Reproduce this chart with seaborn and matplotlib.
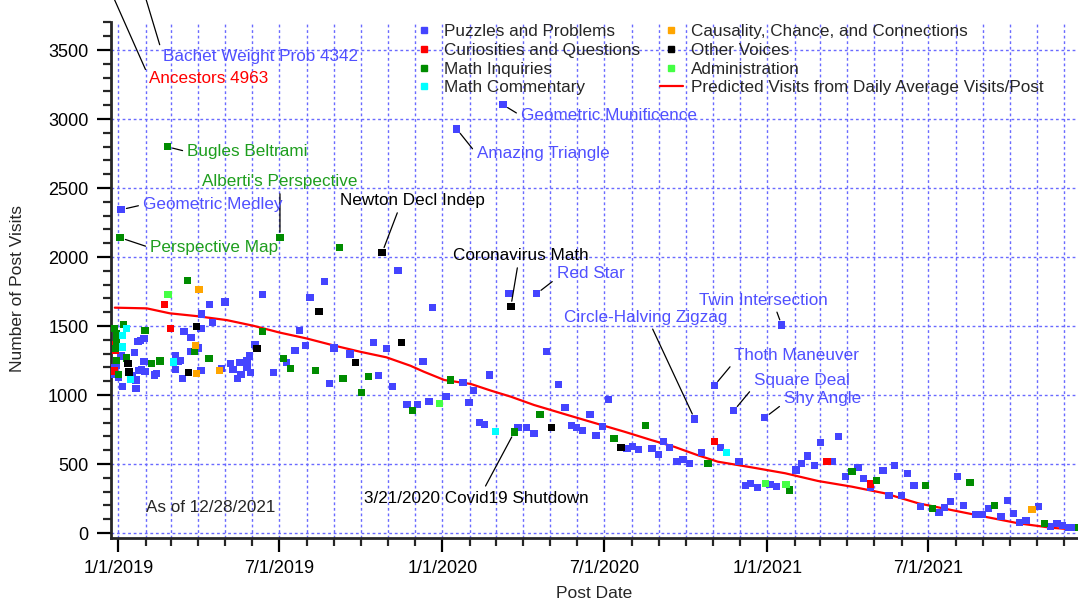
import pandas as pd
import matplotlib
matplotlib.use("Agg")
import matplotlib.pyplot as plt
import matplotlib.dates as mdates
from matplotlib.ticker import MultipleLocator, FuncFormatter
from matplotlib.lines import Line2D
import seaborn as sns

start = pd.Timestamp("2019-01-01")

# post day = days after 1/1/2019, visits = number of post visits
puzzles_day = [9, 3, 22, 25, 29, 18, 3, -2, -4, -4, 0, 20, 5, 20, 16, 23, 26, 30, 41, 43,
               29, 64, 67, 70, 64, 72, 74, 82, 81, 90, 93, 93, 94, 103, 106, 120, 116, 126,
               129, 134, 137, 138, 145, 145, 148, 149, 154, 162, 175, 189, 199, 204, 211,
               216, 232, 238, 243, 261, 287, 293, 302, 309, 315, 325, 337, 343, 350, 354,
               369, 381, 388, 395, 400, 407, 412, 418, 433, 440, 450, 460, 468, 471, 482,
               496, 503, 510, 516, 523, 531, 538, 545, 552, 573, 579, 586, 601, 608, 614,
               621, 629, 636, 643, 649, 657, 671, 678, 693, 699, 706, 712, 720, 728, 734,
               741, 747, 763, 769, 776, 784, 791, 804, 811, 819, 833, 839, 847, 861, 868,
               874, 882, 889, 896, 903, 924, 930, 937, 945, 952, 965, 973, 980, 994, 1001,
               1008, 1015, 1022, 1036, 1050, 1057, 1063, 1070, 1077]
puzzles_visits = [4342, 2343, 1386, 1394, 1408, 1307, 1283, 1215, 1196, 1152, 1125, 1109,
                  1060, 1046, 1143, 1179, 1186, 1172, 1145, 1154, 1241, 1285, 1241, 1248,
                  1183, 1118, 1459, 1415, 1314, 1341, 1480, 1176, 1587, 1654, 1524, 1674,
                  1193, 1227, 1183, 1118, 1234, 1147, 1249, 1198, 1283, 1162, 1364, 1727,
                  1162, 1234, 1321, 1466, 1357, 1705, 1821, 1082, 1340, 1297, 1379, 1140,
                  1336, 1060, 1901, 930, 930, 1241, 951, 1633, 988, 2928, 1089, 944, 1031,
                  800, 785, 1145, 3104, 1734, 763, 763, 722, 1734, 1314, 1075, 908, 780, 766,
                  741, 857, 705, 770, 966, 611, 625, 604, 611, 567, 662, 618, 520, 531, 505,
                  826, 582, 1067, 618, 886, 517, 343, 360, 328, 836, 350, 336, 1507, 457, 502,
                  558, 488, 654, 517, 698, 408, 473, 394, 328, 451, 270, 488, 270, 430, 343,
                  191, 147, 183, 227, 408, 198, 133, 133, 176, 118, 234, 140, 75, 89, 191, 46,
                  67, 53, 38, 38]

curiosities_day = [-80, 52, 59, -3, -3, -5, 671, 798, 847]
curiosities_visits = [4963, 1654, 1480, 1367, 1324, 1175, 662, 517, 355]

inquiries_day = [55, 2, 182, 249, 78, 6, -4, -2, -2, -2, 30, 162, -3, 9, -2, 37, 47, 86,
                 102, 186, 194, 0, 222, 253, 274, 282, 331, 374, 446, 475, 558, 594, 664,
                 756, 826, 854, 909, 917, 959, 987, 1043, 1081]
inquiries_visits = [2799, 2140, 2140, 2067, 1828, 1509, 1480, 1447, 1418, 1389, 1466, 1459,
                    1336, 1268, 1249, 1227, 1246, 1314, 1263, 1263, 1191, 1147, 1176, 1118,
                    1017, 1133, 886, 1109, 732, 857, 683, 778, 502, 312, 444, 379, 343, 176,
                    365, 198, 67, 38]

commentary_day = [9, 5, 5, 14, 62, 425, 685]
commentary_visits = [1480, 1430, 1348, 1111, 1239, 734, 582]

causality_day = [91, 87, 88, 114, 1029]
causality_visits = [1763, 1357, 1154, 1176, 169]

voices_day = [297, 88, 156, 226, 267, 319, 11, 12, 79, 442, 488, 566]
voices_visits = [2031, 1495, 1336, 1604, 1234, 1379, 1227, 1167, 1162, 1640, 763, 618]

admin_day = [56, 362, 729, 752]
admin_visits = [1727, 937, 357, 350]

pred_day = [-4, 32, 58, 88, 122, 152, 182, 212, 242, 272, 302, 329, 344, 367, 397, 420,
            442, 468, 506, 544, 570, 600, 626, 652, 675, 713, 751, 788, 826, 863, 901,
            938, 976, 1014, 1051, 1083]
pred_visits = [1633, 1628, 1592, 1572, 1543, 1502, 1452, 1410, 1360, 1314, 1273, 1212,
               1169, 1109, 1080, 1031, 988, 928, 855, 783, 734, 674, 625, 565, 517, 476,
               433, 377, 336, 288, 215, 167, 118, 70, 38, 22]

categories = ["Puzzles and Problems", "Curiosities and Questions", "Math Inquiries",
              "Math Commentary", "Causality, Chance, and Connections", "Other Voices",
              "Administration"]
colors = ["#4444ff", "#ff0000", "#008c00", "#00ffff", "#ffa500", "#000000", "#44ff44"]
text_colors = {"Puzzles and Problems": "#5050ff", "Curiosities and Questions": "#ff0000",
               "Math Inquiries": "#1e9e1e", "Other Voices": "#000000"}

series = [(puzzles_day, puzzles_visits), (curiosities_day, curiosities_visits),
          (inquiries_day, inquiries_visits), (commentary_day, commentary_visits),
          (causality_day, causality_visits), (voices_day, voices_visits),
          (admin_day, admin_visits)]

frames = []
for cat, (d, v) in zip(categories, series):
    frames.append(pd.DataFrame({"date": start + pd.to_timedelta(d, unit="D"),
                                "visits": v, "category": cat}))
df = pd.concat(frames, ignore_index=True)
pred_dates = start + pd.to_timedelta(pred_day, unit="D")

# labelled posts: text, category, day, visits, text offset in pixels, ha, relpos
notes = [
    ("Bachet Weight Prob 4342", "Puzzles and Problems", 9, 4342, 37, -123, "left", (0, 0.5)),
    ("Ancestors 4963", "Curiosities and Questions", -80, 4963, 102, -230, "left", (0, 0.5)),
    ("Bugles Beltrami", "Math Inquiries", 55, 2799, 20, -5, "left", (0, 0.5)),
    ("Alberti's Perspective", "Math Inquiries", 182, 2140, 0, 56, "center", (0.5, 0)),
    ("Geometric Medley", "Puzzles and Problems", 3, 2343, 22, 5, "left", (0, 0.5)),
    ("Perspective Map", "Math Inquiries", 2, 2140, 30, -10, "left", (0, 0.5)),
    ("Newton Decl Indep", "Other Voices", 297, 2031, 30, 52, "center", (0.41, 0)),
    ("Coronavirus Math", "Other Voices", 442, 1640, 10, 51, "center", (0.48, 0)),
    ("Red Star", "Puzzles and Problems", 471, 1734, 20, 20, "left", (0, 0.2)),
    ("Amazing Triangle", "Puzzles and Problems", 381, 2928, 20, -25, "left", (0, 0.5)),
    ("Geometric Munificence", "Puzzles and Problems", 433, 3104, 18, -11, "left", (0, 0.5)),
    ("Twin Intersection", "Puzzles and Problems", 747, 1507, -18, 25, "center", (0.59, 0)),
    ("Circle-Halving Zigzag", "Puzzles and Problems", 649, 826, -49, 102, "center", (0.53, 0)),
    ("Thoth Maneuver", "Puzzles and Problems", 671, 1067, 20, 30, "left", (0, 0.1)),
    ("Square Deal", "Puzzles and Problems", 693, 886, 20, 30, "left", (0, 0.1)),
    ("Shy Angle", "Puzzles and Problems", 728, 836, 19, 19, "left", (0, 0.2)),
    ("3/21/2020 Covid19 Shutdown", "Other Voices", 446, 732, -38, -66, "center", (0.53, 1)),
]

sns.set_style("ticks")
plt.rcParams["font.family"] = ["Liberation Sans", "DejaVu Sans"]

fig = plt.figure(figsize=(10.78, 6.03), dpi=100)
ax = fig.add_axes([0.1027, 0.1078, 0.8973, 0.8557])

grid_kw = dict(color="#6a6aff", linestyle=(0, (2, 2)), linewidth=1)
ax.set_axisbelow(True)

sns.lineplot(x=pred_dates, y=pred_visits, color="red", linewidth=1.6, ax=ax, zorder=2)
sns.scatterplot(data=df, x="date", y="visits", hue="category", hue_order=categories,
                palette=dict(zip(categories, colors)), marker="s", s=28, linewidth=0,
                legend=False, ax=ax, zorder=3)

ax.set_xlim(start + pd.Timedelta(days=-8.6), start + pd.Timedelta(days=1080.7))
ax.set_ylim(-36, 3703)

ax.xaxis.set_major_locator(mdates.MonthLocator(bymonth=[1, 7]))
ax.xaxis.set_minor_locator(mdates.MonthLocator())
ax.xaxis.set_major_formatter(FuncFormatter(
    lambda v, p: "{0.month}/{0.day}/{0.year}".format(mdates.num2date(v))))
ax.yaxis.set_major_locator(MultipleLocator(500))
ax.yaxis.set_minor_locator(MultipleLocator(100))

ax.grid(which="both", axis="x", **grid_kw)
ax.grid(which="major", axis="y", **grid_kw)

for s in ["top", "right"]:
    ax.spines[s].set_visible(False)
for s in ["left", "bottom"]:
    ax.spines[s].set_linewidth(2)
ax.tick_params(which="major", direction="out", length=10, width=1.6, labelsize=13, pad=6,
               colors="black")
ax.tick_params(which="minor", direction="out", length=5.5, width=1.6)
ax.set_xlabel("")
ax.set_ylabel("")

fig.text(18 / 1078, 1 - 288 / 603, "Number of Post Visits", rotation=90,
         ha="center", va="center", fontsize=12.5)
fig.text(594 / 1078, 1 - 593 / 603, "Post Date", ha="center", va="center", fontsize=12.5)
fig.text(146 / 1078, 1 - 507 / 603, "As of 12/28/2021", ha="left", va="center",
         fontsize=12.3)

for label, cat, d, v, dx, dy, ha, rel in notes:
    ax.annotate(label, xy=(start + pd.Timedelta(days=d), v),
                xytext=(dx * 0.72, dy * 0.72), textcoords="offset points",
                ha=ha, va="center", fontsize=12.3, color=text_colors[cat],
                annotation_clip=False, zorder=4,
                arrowprops=dict(arrowstyle="-", color="black", lw=0.9,
                                shrinkA=1, shrinkB=4, relpos=rel))

handles = [Line2D([], [], marker="s", linestyle="", color=c, markersize=4.5, label=cat)
           for cat, c in zip(categories, colors)]
handles.append(Line2D([], [], color="red", linewidth=1.6,
                      label="Predicted Visits from Daily Average Visits/Post"))
fig.legend(handles=handles, ncol=2, loc="upper left", frameon=False,
           bbox_to_anchor=(413 / 1078, 1 - 24 / 603), bbox_transform=fig.transFigure,
           fontsize=12.3, handlelength=1.3, handletextpad=0.5, labelspacing=0.22,
           columnspacing=1.2, borderpad=0, borderaxespad=0)

fig.savefig("out.png", dpi=100)
